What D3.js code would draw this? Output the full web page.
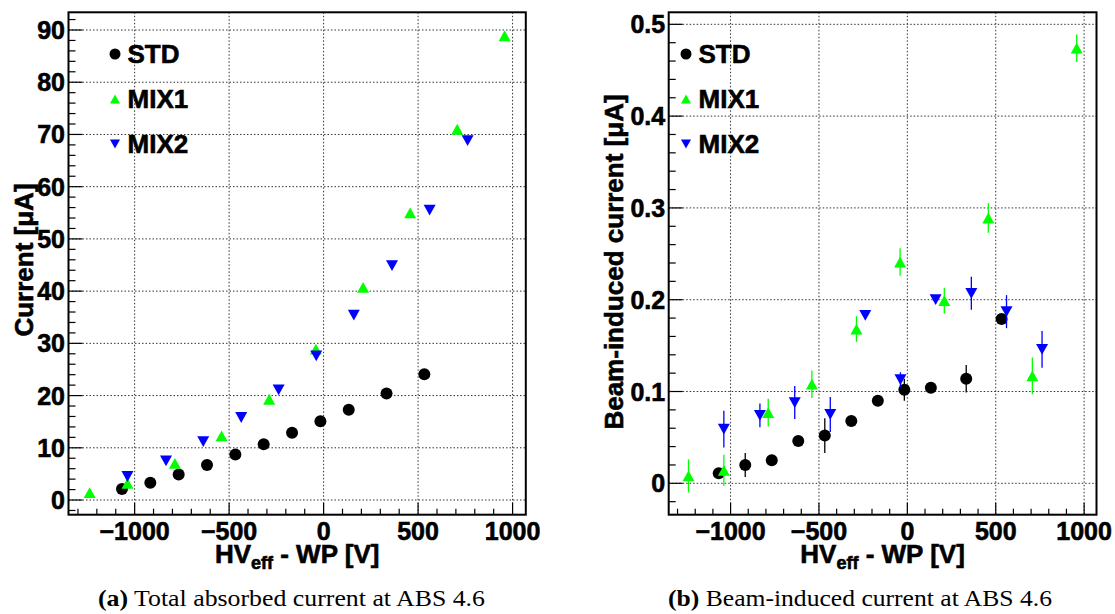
<!DOCTYPE html>
<html>
<head>
<meta charset="utf-8">
<script src="https://cdn.jsdelivr.net/npm/d3@7"></script>
<style>
  html, body { margin: 0; padding: 0; background: #fff; }
  svg { display: block; }
  text { font-family: "Liberation Sans", Arial, sans-serif; font-weight: bold; fill: #000; stroke: #000; stroke-width: 0.6px; }
  .caption { font-family: "Liberation Serif", "DejaVu Serif", serif; font-weight: normal; stroke: none; }
</style>
</head>
<body>
<svg id="chart" width="1115" height="614"></svg>
<script>
// HV_eff - WP [V] for each gas mixture
const stdHV  = [-1067, -917, -767, -617, -467, -317, -167, -17, 133, 333, 533];
const mix1HV = [-1238, -1038, -787, -540, -288, -41, 209, 458, 707, 958];
const mix2HV = [-1038, -834, -637, -436, -238, -39, 160, 362, 561, 762];

// Total absorbed current [uA]
const stdCurrent  = [2.1, 3.3, 4.9, 6.7, 8.7, 10.7, 12.9, 15.1, 17.3, 20.4, 24.1];
const mix1Current = [1.4, 3.2, 7.0, 12.3, 19.3, 28.9, 40.7, 55.0, 71.0, 88.9];
const mix2Current = [4.5, 7.5, 11.2, 15.8, 21.1, 27.6, 35.4, 44.9, 55.5, 68.8];

// Beam-induced current [uA] and its uncertainty
const stdBeam     = [0.011, 0.020, 0.025, 0.046, 0.052, 0.068, 0.090, 0.102, 0.104, 0.114, 0.179];
const stdBeamErr  = [0.004, 0.013, 0.004, 0.004, 0.019, 0.004, 0.004, 0.012, 0.004, 0.015, 0.004];
const mix1Beam    = [0.008, 0.014, 0.077, 0.108, 0.168, 0.241, 0.199, 0.289, 0.117, 0.474];
const mix1BeamErr = [0.018, 0.017, 0.015, 0.015, 0.014, 0.015, 0.014, 0.016, 0.020, 0.015];
const mix2Beam    = [0.059, 0.074, 0.088, 0.075, 0.183, 0.113, 0.200, 0.207, 0.187, 0.146];
const mix2BeamErr = [0.020, 0.013, 0.018, 0.019, 0.004, 0.008, 0.004, 0.018, 0.018, 0.020];

// Axis ticks and labels
const seriesNames = ["STD", "MIX1", "MIX2"];
const xMajorTicks = [-1000, -500, 0, 500, 1000];
const xTickLabels = ["\u22121000", "\u2212500", "0", "500", "1000"];
const currentTicks = [0, 10, 20, 30, 40, 50, 60, 70, 80, 90];
const beamTicks = [0, 0.1, 0.2, 0.3, 0.4, 0.5];
const beamTickLabels = ["0", "0.1", "0.2", "0.3", "0.4", "0.5"];
const captions = [["(a)", " Total absorbed current at ABS 4.6"], ["(b)", " Beam-induced current at ABS 4.6"]];

const svg = d3.select("#chart");
const colors = { STD: "#000000", MIX1: "#00ff00", MIX2: "#0000ff" };

function marker(g, name, cx, cy, size) {
  const s = size;
  if (name === "STD") {
    g.append("circle").attr("cx", cx).attr("cy", cy).attr("r", s / 2).attr("fill", colors.STD);
  } else {
    const up = name === "MIX1";
    const h = s * 0.9 / 2, w = s / 2;
    const pts = up
      ? [[cx - w, cy + h], [cx + w, cy + h], [cx, cy - h]]
      : [[cx - w, cy - h], [cx + w, cy - h], [cx, cy + h]];
    g.append("path").attr("d", d3.line()(pts) + "Z").attr("fill", colors[name]);
  }
}

function panel(cfg) {
  const g = svg.append("g");
  const x = d3.scaleLinear().domain([-1350, 1070]).range([cfg.left, cfg.right]);
  const y = d3.scaleLinear().domain(cfg.yDomain).range([cfg.bottom, cfg.top]);

  // dotted grid at major ticks
  const grid = g.append("g").attr("stroke", "#333").attr("stroke-width", 1).attr("stroke-dasharray", "1.5,2");
  xMajorTicks.forEach(v => grid.append("line").attr("x1", x(v)).attr("x2", x(v)).attr("y1", cfg.top).attr("y2", cfg.bottom));
  cfg.yTicks.forEach(v => grid.append("line").attr("x1", cfg.left).attr("x2", cfg.right).attr("y1", y(v)).attr("y2", y(v)));

  // error bars then markers
  cfg.series.forEach(s => {
    if (s.err) {
      s.x.forEach((xv, i) => {
        g.append("line").attr("x1", x(xv)).attr("x2", x(xv))
          .attr("y1", y(s.y[i] - s.err[i])).attr("y2", y(s.y[i] + s.err[i]))
          .attr("stroke", colors[s.name]).attr("stroke-width", 1.3);
      });
    }
    s.x.forEach((xv, i) => marker(g, s.name, x(xv), y(s.y[i]), 12));
  });

  // frame
  g.append("rect").attr("x", cfg.left).attr("y", cfg.top)
    .attr("width", cfg.right - cfg.left).attr("height", cfg.bottom - cfg.top)
    .attr("fill", "none").attr("stroke", "#000").attr("stroke-width", 2);

  // x ticks (inside, along bottom)
  const ticks = g.append("g").attr("stroke", "#000").attr("stroke-width", 1.2);
  d3.range(-1300, 1070, 100).forEach(v => {
    const major = v % 500 === 0;
    ticks.append("line").attr("x1", x(v)).attr("x2", x(v))
      .attr("y1", cfg.bottom).attr("y2", cfg.bottom - (major ? 12 : 6));
  });
  // y ticks (inside, along left)
  const [y0, y1] = cfg.yDomain;
  const minorStep = cfg.yMinor;
  for (let k = Math.ceil(y0 / minorStep); k * minorStep <= y1 + 1e-9; k++) {
    const v = k * minorStep;
    const major = Math.abs(v / cfg.yMajor - Math.round(v / cfg.yMajor)) < 1e-6;
    ticks.append("line").attr("x1", cfg.left).attr("x2", cfg.left + (major ? 14 : 7))
      .attr("y1", y(v)).attr("y2", y(v));
  }

  // tick labels
  xMajorTicks.forEach((v, i) => {
    g.append("text").attr("x", x(v)).attr("y", cfg.bottom + 25)
      .attr("text-anchor", "middle").attr("font-size", 25).text(xTickLabels[i]);
  });
  cfg.yTicks.forEach((v, i) => {
    g.append("text").attr("x", cfg.left - 3.5).attr("y", y(v)).attr("dy", "0.36em")
      .attr("text-anchor", "end").attr("font-size", 25).text(cfg.yLabels[i]);
  });

  // axis titles
  const xt = g.append("text").attr("x", (cfg.left + cfg.right) / 2).attr("y", 563)
    .attr("text-anchor", "middle").attr("font-size", 26);
  xt.append("tspan").text("HV");
  xt.append("tspan").attr("font-size", 18).attr("dy", 6).text("eff");
  xt.append("tspan").attr("dy", -6).text(" - WP [V]");

  g.append("text").attr("transform", `translate(${cfg.yTitleX},${cfg.yTitleY}) rotate(-90)`)
    .attr("text-anchor", "middle").attr("font-size", 26).text(cfg.yTitle);

  // legend
  seriesNames.forEach((name, i) => {
    const base = 63 + i * 45;
    marker(g, name, cfg.legendX, base - 9, name === "STD" ? 11 : 10);
    g.append("text").attr("x", cfg.legendX + 12.5).attr("y", base).attr("font-size", 26).text(name);
  });

  // caption
  const cap = svg.append("text").attr("class", "caption").attr("x", cfg.captionX).attr("y", 606)
    .attr("font-size", 23).attr("textLength", cfg.captionWidth).attr("lengthAdjust", "spacingAndGlyphs");
  cap.append("tspan").attr("font-weight", "bold").text(cfg.caption[0]);
  cap.append("tspan").text(cfg.caption[1]);
}

panel({
  left: 68.5, right: 525.8, top: 12.3, bottom: 514.7,
  yDomain: [-2.81, 93.39], yTicks: currentTicks, yLabels: currentTicks.map(String),
  yMajor: 10, yMinor: 2,
  yTitle: "Current [\u03bcA]", yTitleX: 33, yTitleY: 260,
  legendX: 115, captionX: 98, captionWidth: 387, caption: captions[0],
  series: [
    { name: "STD", x: stdHV, y: stdCurrent },
    { name: "MIX1", x: mix1HV, y: mix1Current },
    { name: "MIX2", x: mix2HV, y: mix2Current }
  ]
});

panel({
  left: 668.7, right: 1096.5, top: 12.3, bottom: 514.7,
  yDomain: [-0.0342, 0.5131], yTicks: beamTicks, yLabels: beamTickLabels,
  yMajor: 0.1, yMinor: 0.02,
  yTitle: "Beam-induced current [\u03bcA]", yTitleX: 623, yTitleY: 262,
  legendX: 686, captionX: 668, captionWidth: 384, caption: captions[1],
  series: [
    { name: "STD", x: stdHV, y: stdBeam, err: stdBeamErr },
    { name: "MIX1", x: mix1HV, y: mix1Beam, err: mix1BeamErr },
    { name: "MIX2", x: mix2HV, y: mix2Beam, err: mix2BeamErr }
  ]
});
</script>
</body>
</html>
